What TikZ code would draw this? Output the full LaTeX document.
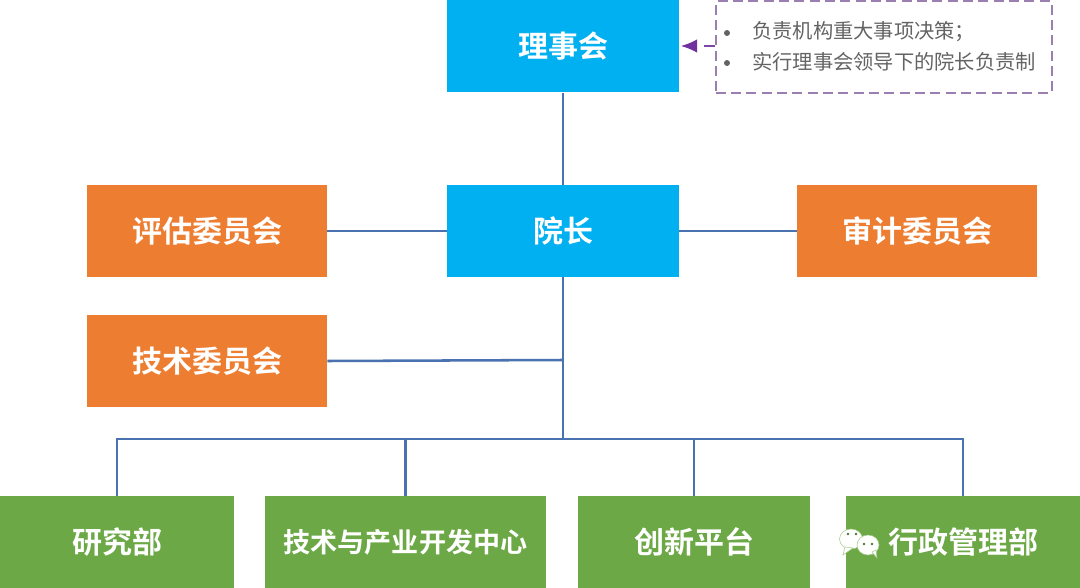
\documentclass[tikz,border=0pt]{standalone}
\usepackage{fontspec}
\setmainfont{Noto Sans CJK SC}[BoldFont={Noto Sans CJK SC Bold}]
\newfontfamily\cjkb{Noto Sans CJK SC Bold}
\usetikzlibrary{arrows.meta}
\definecolor{cblue}{HTML}{00B0F0}
\definecolor{corange}{HTML}{ED7D31}
\definecolor{cgreen}{HTML}{6CA845}
\definecolor{cline}{HTML}{4A72B0}
\definecolor{cpurple}{HTML}{7030A0}
\definecolor{cdash}{HTML}{9A7FB0}
\definecolor{ctext}{HTML}{636363}
\tikzset{
  x=0.75pt,y=-0.75pt,
  boxbase/.style={minimum height=69pt,inner sep=0pt,text=white,font=\cjkb\fontsize{22.5pt}{26pt}\selectfont},
  bluebox/.style={boxbase,fill=cblue,minimum width=174pt},
  orangebox/.style={boxbase,fill=corange,minimum width=180pt},
  greenbox/.style={boxbase,fill=cgreen},
  conn/.style={draw=cline,line width=1.9pt},
  bul/.style={font=\fontsize{15.2pt}{18pt}\selectfont,text=ctext,anchor=west,inner sep=0pt},
  bubble/.style={fill=white,draw=cgreen!60!white,line width=0.4pt},
}
\begin{document}
\begin{tikzpicture}
\useasboundingbox (0,0) rectangle (1080,588);
\node[bluebox] (board) at (563,46.5) {理事会};
\node[bluebox] (dean) at (563,231) {院长};
\node[orangebox] (eval) at (207,231) {评估委员会};
\node[orangebox] (audit) at (917,231) {审计委员会};
\node[orangebox] (tech) at (207,361) {技术委员会};
\node[greenbox,minimum width=175pt] (res) at (117,542) {研究部};
\node[greenbox,minimum width=211pt,font=\cjkb\fontsize{20.3pt}{24pt}\selectfont] (dev) at (405.5,542) {技术与产业开发中心};
\node[greenbox,minimum width=174pt] (inno) at (694,542) {创新平台};
\node[greenbox,minimum width=175pt] (admin) at (963,542) {行政管理部};
\coordinate (j1) at (563,360);
\coordinate (j2) at (563,439);
\draw[conn] (board) -- (dean);
\draw[conn] (eval) -- (dean);
\draw[conn] (dean) -- (audit);
\draw[conn] (dean) -- (j2);
\draw[conn] (tech.east) -- (j1);
\draw[conn] (res.north) |- (j2);
\draw[conn] (dev.north) |- (j2);
\draw[conn] (inno.north) |- (j2);
\draw[conn] (admin.north) |- (j2);
\node[draw=cdash,line width=1.5pt,dash pattern=on 7.5pt off 4pt,minimum width=252pt,minimum height=68.5pt,inner sep=0pt] (note) at (883.5,47) {};
\fill[ctext] (727,33) circle (3);
\fill[ctext] (727,63) circle (3);
\node[bul] (n1) at (752,32) {负责机构重大事项决策；};
\node[bul] (n2) at (752,62) {实行理事会领导下的院长负责制};
\coordinate (arrowend) at (681,46);
\draw[draw=cpurple!70!cdash,line width=1.1pt,dash pattern=on 8pt off 5pt,-{Latex[length=12pt,width=10pt,color=cpurple]}] (note.west) ++(0,-1) -- (arrowend);
% WeChat mark
\fill[bubble] (851,539) ellipse (11.5 and 10);
\fill[bubble] (845,547) -- (843,555) -- (853,548) -- cycle;
\fill[bubble] (868,545) ellipse (11 and 10);
\fill[bubble] (872,552) -- (877,558) -- (876,550) -- cycle;
\fill[cgreen!70!black] (848,534) circle (1.3) (856,534) circle (1.3) (864,544) circle (1.3) (872,544) circle (1.3);
\end{tikzpicture}
\end{document}
